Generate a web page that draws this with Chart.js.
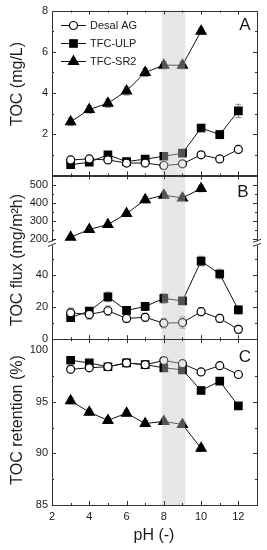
<!DOCTYPE html>
<html>
<head>
<meta charset="utf-8">
<script src="https://cdn.jsdelivr.net/npm/chart.js@4.4.0/dist/chart.umd.min.js"></script>
<style>
  html, body { margin: 0; padding: 0; background: #fff; }
  #wrap { width: 267px; height: 550px; position: relative; }
</style>
</head>
<body>
<div id="wrap"><canvas id="chart"></canvas></div>
<script>
// pH values measured
const phValues = [3, 4, 5, 6, 7, 8, 9, 10, 11, 12];
const membranes = ["Desal AG", "TFC-ULP", "TFC-SR2"];
const bandRange = [7.9, 9.15];

// A: TOC in permeate (mg/L)
const tocDesal = [0.75, 0.8, 0.75, 0.6, 0.6, 0.48, 0.56, 1.0, 0.8, 1.26];
const tocULP = [0.52, 0.64, 1.0, 0.67, 0.79, 0.93, 1.08, 2.3, 1.98, 3.13];
const tocSR2 = [2.6, 3.2, 3.5, 4.1, 5.0, 5.35, 5.35, 7.0];
const tocDesalErr = [0.1, 0.08, 0.1, 0.08, 0.08, 0.08, 0.08, 0.1, 0.1, 0.12];
const tocULPErr = [0.1, 0.1, 0.12, 0.1, 0.1, 0.1, 0.12, 0.18, 0.2, 0.32];
const tocSR2Err = [0.18, 0.18, 0.2, 0.2, 0.2, 0.18, 0.18, 0.15];

// B: TOC flux (mg/m2h)
const fluxDesal = [16.5, 15.5, 17.8, 13, 13.7, 10, 10.4, 17.2, 13, 6.2];
const fluxULP = [13.5, 17.6, 26.5, 18, 20.5, 25.5, 24, 48.9, 40.8, 18.4];
const fluxSR2 = [212, 255, 282, 343, 420, 445, 430, 482];
const fluxDesalErr = [3, 3, 3, 2.5, 2.5, 3, 3.5, 2.5, 2.5, 2.5];
const fluxULPErr = [2, 2, 3, 2, 2.5, 3, 2, 3, 3, 2.5];
const fluxSR2Err = [10, 12, 12, 15, 18, 18, 15, 18];

// C: TOC retention (%)
const retDesal = [98.15, 98.3, 98.4, 98.77, 98.6, 99.0, 98.7, 97.9, 98.5, 97.65];
const retULP = [99.03, 98.77, 98.4, 98.77, 98.6, 98.3, 98.1, 96.1, 97.0, 94.6];
const retSR2 = [95.1, 94.0, 93.2, 93.9, 92.9, 93.1, 92.8, 90.5];
const retDesalErr = [0.2, 0.2, 0.2, 0.2, 0.2, 0.2, 0.2, 0.2, 0.2, 0.2];
const retULPErr = [0.2, 0.2, 0.2, 0.2, 0.2, 0.25, 0.25, 0.25, 0.25, 0.25];
const retSR2Err = [0.3, 0.3, 0.3, 0.3, 0.3, 0.3, 0.3, 0.3];

const xTickLabels = [2, 4, 6, 8, 10, 12];
const ticksA = [2, 4, 6, 8];
const ticksBHigh = [200, 300, 400, 500];
const ticksBLow = [0, 20, 40];
const ticksC = [85, 90, 95, 100];

const FONT = "Arial, 'Liberation Sans', sans-serif";
const INK = "#1a1a1a";

const markers = [
  { pointStyle: "circle", pointRadius: 4, pointBackgroundColor: "#fff" },
  { pointStyle: "rect", pointRadius: 5.3, pointBackgroundColor: "#000" },
  { pointStyle: "triangle", pointRadius: 5.8, pointBackgroundColor: "#000" },
];

function series(ys, errs, m, axis) {
  return Object.assign({
    data: ys.map((v, i) => ({ x: phValues[i], y: v })),
    errors: errs,
    yAxisID: axis,
    borderColor: "#111",
    borderWidth: 1,
    pointBorderColor: "#000",
    pointBorderWidth: 1.2,
    pointHoverRadius: 0,
    fill: false,
    tension: 0,
  }, markers[m]);
}

const datasets = [
  series(tocDesal, tocDesalErr, 0, "yA"),
  series(tocULP, tocULPErr, 1, "yA"),
  series(tocSR2, tocSR2Err, 2, "yA"),
  series(fluxDesal, fluxDesalErr, 0, "yB0"),
  series(fluxULP, fluxULPErr, 1, "yB0"),
  series(fluxSR2, fluxSR2Err, 2, "yB1"),
  series(retDesal, retDesalErr, 0, "yC"),
  series(retULP, retULPErr, 1, "yC"),
  series(retSR2, retSR2Err, 2, "yC"),
];

function yScale(min, max, ticks, weight) {
  return {
    type: "linear",
    position: "left",
    stack: "panels",
    stackWeight: weight,
    min: min,
    max: max,
    grid: { display: false, drawTicks: false },
    border: { display: false },
    afterBuildTicks: s => { s.ticks = ticks.map(v => ({ value: v })); },
    afterFit: s => { s.width = 52; },
    ticks: { padding: 4, autoSkip: false, color: INK, font: { family: FONT, size: 11 } },
  };
}

// minor / major ticks per panel
const panelTicks = {
  yA: { major: [2, 4, 6], minor: [1, 3, 5, 7] },
  yB1: { major: [200, 300, 400, 500], minor: [250, 350, 450] },
  yB0: { major: [20, 40], minor: [10, 30, 50] },
  yC: { major: [90, 95], minor: [87.5, 92.5, 97.5] },
};

const decor = {
  id: "decor",
  beforeDatasetsDraw(chart) {
    const ctx = chart.ctx;
    const x = chart.scales.x;
    ctx.save();
    ctx.strokeStyle = "#8a8a8a";
    ctx.lineWidth = 1;
    chart.data.datasets.forEach(ds => {
      const y = chart.scales[ds.yAxisID];
      ds.data.forEach((p, i) => {
        const e = ds.errors[i];
        const px = x.getPixelForValue(p.x);
        const y1 = y.getPixelForValue(p.y - e);
        const y2 = y.getPixelForValue(p.y + e);
        ctx.beginPath();
        ctx.moveTo(px, y1); ctx.lineTo(px, y2);
        ctx.moveTo(px - 3, y1); ctx.lineTo(px + 3, y1);
        ctx.moveTo(px - 3, y2); ctx.lineTo(px + 3, y2);
        ctx.stroke();
      });
    });
    ctx.restore();
  },
  afterDatasetsDraw(chart) {
    const ctx = chart.ctx;
    const x = chart.scales.x;
    const area = chart.chartArea;
    const L = area.left, R = area.right;
    ctx.save();

    // shaded pH band (drawn over the markers, semi transparent)
    const b0 = x.getPixelForValue(bandRange[0]);
    const b1 = x.getPixelForValue(bandRange[1]);
    ctx.fillStyle = "rgba(198,198,198,0.42)";
    ctx.fillRect(b0, area.top, b1 - b0, area.bottom - area.top);

    ctx.strokeStyle = "#333";
    ctx.lineWidth = 1;
    const panels = [
      [chart.scales.yA.top, chart.scales.yA.bottom],
      [chart.scales.yB1.top, chart.scales.yB0.bottom],
      [chart.scales.yC.top, chart.scales.yC.bottom],
    ];
    panels.forEach(([t, b]) => {
      ctx.strokeRect(Math.round(L) + 0.5, Math.round(t) + 0.5, Math.round(R - L), Math.round(b - t));
      for (let v = 3; v <= 12; v++) {
        const px = Math.round(x.getPixelForValue(v)) + 0.5;
        const len = v % 2 === 0 ? 4 : 2;
        ctx.beginPath();
        ctx.moveTo(px, t); ctx.lineTo(px, t + len);
        ctx.moveTo(px, b); ctx.lineTo(px, b - len);
        ctx.stroke();
      }
    });

    Object.keys(panelTicks).forEach(id => {
      const s = chart.scales[id];
      const pt = panelTicks[id];
      [[pt.major, 4], [pt.minor, 2]].forEach(([vals, len]) => {
        vals.forEach(v => {
          const py = Math.round(s.getPixelForValue(v)) + 0.5;
          ctx.beginPath();
          ctx.moveTo(L, py); ctx.lineTo(L + len, py);
          ctx.moveTo(R, py); ctx.lineTo(R - len, py);
          ctx.stroke();
        });
      });
    });

    // axis break marks in panel B
    const by = chart.scales.yB0.top;
    [L, R].forEach(ax => {
      ctx.fillStyle = "#fff";
      ctx.fillRect(ax - 4, by - 2, 8, 4);
      ctx.beginPath();
      ctx.moveTo(ax - 4, by - 1); ctx.lineTo(ax + 4, by - 4);
      ctx.moveTo(ax - 4, by + 3); ctx.lineTo(ax + 4, by);
      ctx.stroke();
    });

    // legend
    const legendY = [25, 43, 61];
    ctx.font = "11px " + FONT;
    ctx.textBaseline = "middle";
    membranes.forEach((name, i) => {
      const y = legendY[i] + 0.5;
      const m = markers[i];
      ctx.strokeStyle = "#111";
      ctx.lineWidth = 1;
      ctx.beginPath();
      ctx.moveTo(61, y); ctx.lineTo(86, y);
      ctx.stroke();
      ctx.fillStyle = m.pointBackgroundColor;
      ctx.strokeStyle = "#000";
      ctx.lineWidth = 1.2;
      Chart.helpers.drawPoint(ctx, {
        pointStyle: m.pointStyle, radius: m.pointRadius, borderWidth: 1.2, rotation: 0,
      }, 73.5, y);
      ctx.lineWidth = 1;
      ctx.fillStyle = INK;
      ctx.fillText(name, 90, y);
    });

    // panel letters
    ctx.font = "17px " + FONT;
    ctx.textAlign = "center";
    ctx.fillText("A", 245, 25);
    ctx.fillText("B", 243, 192);
    ctx.fillText("C", 245, 357);

    // axis titles
    ctx.font = "16px " + FONT;
    ctx.fillText("pH (-)", 154, 536);
    [["TOC (mg/L)", 84], ["TOC flux (mg/m\u00B2h)", 260], ["TOC retention (%)", 420]].forEach(([t, cy]) => {
      ctx.save();
      ctx.translate(18, cy);
      ctx.rotate(-Math.PI / 2);
      ctx.fillText(t, 0, 0);
      ctx.restore();
    });
    ctx.restore();
  },
};

new Chart(document.getElementById("chart"), {
  type: "line",
  data: { datasets: datasets },
  options: {
    responsive: true,
    maintainAspectRatio: false,
    animation: false,
    events: [],
    layout: { padding: { top: 10, right: 10, left: 0, bottom: 0 } },
    plugins: { legend: { display: false }, tooltip: { enabled: false } },
    scales: {
      x: {
        type: "linear",
        min: 2,
        max: 13,
        grid: { display: false, drawTicks: false },
        border: { display: false },
        afterBuildTicks: s => { s.ticks = xTickLabels.map(v => ({ value: v })); },
        afterFit: s => { s.height = 45; },
        ticks: { padding: 5, autoSkip: false, maxRotation: 0, color: INK, font: { family: FONT, size: 11 } },
      },
      yC: yScale(85, 101.07, ticksC, 166),
      yB0: yScale(0, 60, ticksBLow, 96),
      yB1: yScale(178, 555, ticksBHigh, 68),
      yA: yScale(0, 8, ticksA, 165),
    },
  },
  plugins: [decor],
});
</script>
</body>
</html>
